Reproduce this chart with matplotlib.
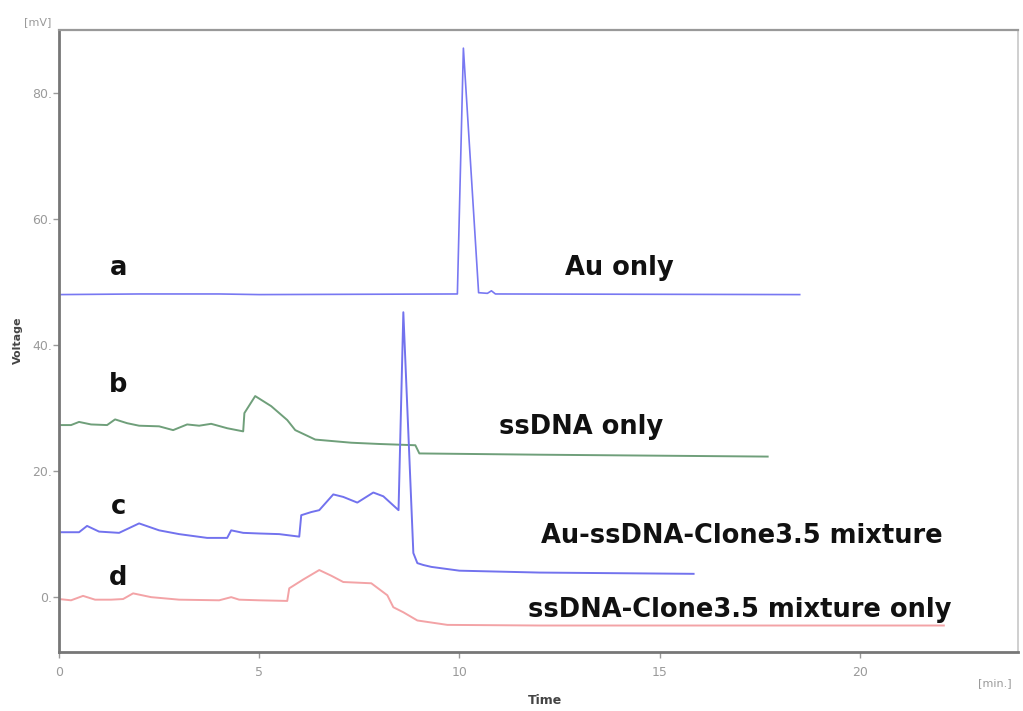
import matplotlib.pyplot as plt

# chromatogram traces (time in min, signal in mV)
a_time = [0.0, 2.0, 4.0, 5.0, 9.95, 10.1, 10.48, 10.7, 10.8, 10.9, 18.5]
a_volt = [48.0, 48.1, 48.1, 48.0, 48.1, 87.1, 48.3, 48.2, 48.6, 48.1, 48.0]

b_time = [0.0, 0.3, 0.5, 0.8, 1.2, 1.4, 1.7, 2.0, 2.5, 2.85, 3.2, 3.5, 3.8, 4.2,
          4.6, 4.63, 4.9, 5.3, 5.7, 5.9, 6.4, 7.3, 8.0, 8.9, 9.0, 12.0, 17.7]
b_volt = [27.3, 27.3, 27.8, 27.4, 27.3, 28.2, 27.6, 27.2, 27.1, 26.5, 27.4, 27.2,
          27.5, 26.8, 26.3, 29.2, 31.9, 30.3, 28.1, 26.5, 25.0, 24.5, 24.3, 24.1,
          22.8, 22.6, 22.3]

c_time = [0.0, 0.5, 0.7, 1.0, 1.5, 2.0, 2.5, 3.0, 3.7, 4.2, 4.3, 4.6, 5.0, 5.5,
          6.0, 6.05, 6.3, 6.5, 6.85, 7.1, 7.45, 7.85, 8.1, 8.48, 8.6, 8.85, 8.95,
          9.1, 9.3, 10.0, 12.0, 15.85]
c_volt = [10.3, 10.3, 11.3, 10.4, 10.2, 11.7, 10.6, 10.0, 9.4, 9.4, 10.6, 10.2,
          10.1, 10.0, 9.6, 13.0, 13.5, 13.8, 16.3, 15.9, 15.0, 16.6, 16.0, 13.8,
          45.2, 7.0, 5.4, 5.1, 4.8, 4.2, 3.9, 3.7]

d_time = [0.0, 0.3, 0.6, 0.9, 1.3, 1.6, 1.85, 2.3, 3.0, 4.0, 4.3, 4.5, 5.0, 5.7,
          5.75, 6.1, 6.5, 6.8, 7.1, 7.8, 8.2, 8.35, 8.6, 8.95, 9.7, 12.0, 22.1]
d_volt = [-0.3, -0.5, 0.2, -0.4, -0.4, -0.3, 0.6, 0.0, -0.4, -0.5, 0.0, -0.4,
          -0.5, -0.6, 1.4, 2.8, 4.3, 3.4, 2.4, 2.2, 0.3, -1.6, -2.4, -3.7, -4.4,
          -4.5, -4.5]

x_ticks = [0, 5, 10, 15, 20]
y_ticks = [0, 20, 40, 60, 80]

trace_letters = ["a", "b", "c", "d"]
trace_names = ["Au only", "ssDNA only", "Au-ssDNA-Clone3.5 mixture",
               "ssDNA-Clone3.5 mixture only"]

fig = plt.figure(figsize=(10.23, 7.11), dpi=100)
ax = fig.add_axes([0.0577, 0.083, 0.9373, 0.875])

ax.plot(a_time, a_volt, color="#7878f2", lw=1.2)
ax.plot(b_time, b_volt, color="#6f9f7a", lw=1.4)
ax.plot(c_time, c_volt, color="#7272ee", lw=1.4)
ax.plot(d_time, d_volt, color="#f3a3a6", lw=1.4)

ax.set_xlim(0, 23.95)
ax.set_ylim(-8.7, 90)
ax.set_xticks(x_ticks)
ax.set_yticks(y_ticks)
ax.set_xticklabels([str(t) for t in x_ticks])
ax.set_yticklabels([f"{t}." if t else "0." for t in y_ticks])
ax.tick_params(axis="both", colors="#9a9a9a", labelsize=9, length=4,
               width=1, direction="out")
ax.tick_params(axis="x", pad=6)
ax.tick_params(axis="y", pad=1)

for side, col, lw in [("left", "#777777", 2.0), ("bottom", "#777777", 2.0),
                      ("top", "#999999", 1.6), ("right", "#cfcfcf", 1.4)]:
    ax.spines[side].set_color(col)
    ax.spines[side].set_linewidth(lw)

label_y = [52.2, 33.7, 14.3, 3.0]
name_pos = [(14.0, 52.2), (13.05, 27.0), (17.05, 9.7), (17.0, -2.1)]
for letter, ly in zip(trace_letters, label_y):
    ax.text(1.48, ly, letter, fontsize=18.5, fontweight="bold",
            ha="center", va="center", color="#111111")
for name, (nx, ny) in zip(trace_names, name_pos):
    ax.text(nx, ny, name, fontsize=18.5, fontweight="bold",
            ha="center", va="center", color="#111111")

fig.text(38 / 1023, 1 - 22 / 711, "[mV]", fontsize=8, color="#9a9a9a",
         ha="center", va="center")
fig.text(995 / 1023, 1 - 683 / 711, "[min.]", fontsize=8, color="#9a9a9a",
         ha="center", va="center")
fig.text(18 / 1023, 1 - 340 / 711, "Voltage", fontsize=8, fontweight="bold",
         color="#444444", rotation=90, ha="center", va="center")
fig.text(545 / 1023, 1 - 700 / 711, "Time", fontsize=9, fontweight="bold",
         color="#444444", ha="center", va="center")

fig.savefig("out.png", dpi=100)
